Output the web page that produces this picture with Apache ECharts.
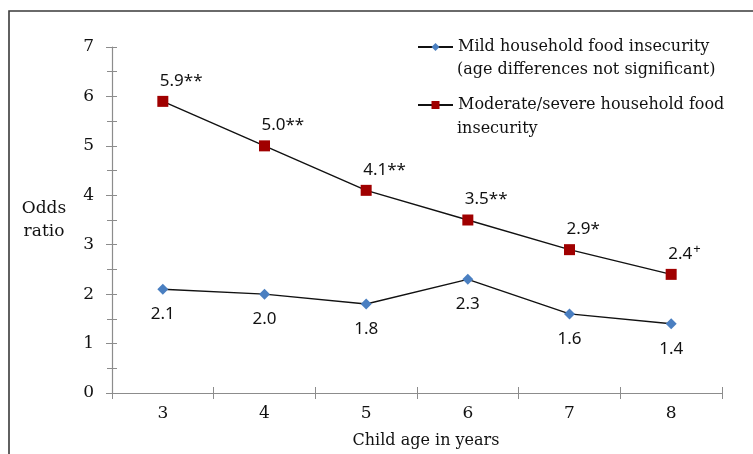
<!DOCTYPE html>
<html>
<head>
<meta charset="utf-8">
<script src="https://cdn.jsdelivr.net/npm/echarts@6/dist/echarts.min.js"></script>
<style>
  html, body { margin: 0; padding: 0; background: #fff; }
  #chart { width: 753px; height: 454px; }
</style>
</head>
<body>
<div id="chart"></div>
<script>
// Child age categories (years)
const ages = ['3', '4', '5', '6', '7', '8'];

// Odds ratios by household food insecurity level
const mildName = 'Mild household food insecurity';
const mildNote = '(age differences not significant)';
const mildValues = [2.1, 2.0, 1.8, 2.3, 1.6, 1.4];

const severeName = 'Moderate/severe household food';
const severeNote = 'insecurity';
const severeValues = [5.9, 5.0, 4.1, 3.5, 2.9, 2.4];
const severeMarks = ['**', '**', '**', '**', '*', '+'];

// Y axis range
const yMin = 0;
const yMax = 7;
const yStep = 1;

const serif = '"DejaVu Serif", serif';
const sans = '"Noto Sans", sans-serif';
const axisGray = '#8c8c8c';
const ink = '#111';

const chart = echarts.init(document.getElementById('chart'), null, { renderer: 'canvas' });

const yBase = {
  type: 'value', min: yMin, max: yMax, interval: yStep,
  position: 'left',
  splitLine: { show: false },
  minorTick: { show: true, splitNumber: 2, length: 5, lineStyle: { color: axisGray, width: 1 } },
  minorSplitLine: { show: false }
};

const legendText = { fontFamily: serif, fontSize: 16, fill: ink };

// significance markers: asterisks sit inline, the plus sign is raised
function markText(mark) {
  return mark === '+' ? '{sup|+}' : '{v|' + mark + '}';
}

const option = {
  backgroundColor: '#fff',
  animation: false,
  graphic: [
    {
      type: 'rect',
      shape: { x: 9, y: 11, width: 800, height: 500 },
      style: { fill: 'none', stroke: '#3a3a3a', lineWidth: 1.6 },
      silent: true
    },
    // continuation lines of the legend entries
    {
      type: 'text', left: 457, top: 62,
      style: Object.assign({ text: mildNote }, legendText), silent: true
    },
    {
      type: 'text', left: 457, top: 121,
      style: Object.assign({ text: severeNote }, legendText), silent: true
    }
  ],
  legend: {
    orient: 'vertical',
    left: 417,
    top: 35,
    padding: 0,
    itemWidth: 35,
    itemHeight: 10,
    itemGap: 34,
    data: [mildName, severeName],
    textStyle: { fontFamily: serif, fontSize: 16, color: ink, lineHeight: 24 }
  },
  grid: { left: 112, right: 31, top: 47, bottom: 60, containLabel: false },
  xAxis: [
    {
      type: 'category', data: ages, position: 'bottom',
      name: 'Child age in years', nameLocation: 'middle', nameGap: 40,
      nameTextStyle: { fontFamily: serif, fontSize: 16, color: ink, padding: [0, 0, 0, 18] },
      axisLine: { lineStyle: { color: axisGray, width: 1.2 } },
      axisTick: { show: true, length: 6, lineStyle: { color: axisGray } },
      axisLabel: { fontFamily: serif, fontSize: 17, color: ink, margin: 12 }
    },
    {
      type: 'category', data: ages, position: 'bottom', offset: 0,
      axisLine: { show: false },
      axisTick: { show: true, inside: true, length: 6, lineStyle: { color: axisGray } },
      axisLabel: { show: false }
    }
  ],
  yAxis: [
    Object.assign({}, yBase, {
      name: 'Odds\nratio', nameLocation: 'middle', nameRotate: 0, nameGap: 68,
      nameTextStyle: { fontFamily: serif, fontSize: 17, color: ink, lineHeight: 23, align: 'center' },
      axisLine: { show: true, lineStyle: { color: axisGray, width: 1.2 } },
      axisTick: { show: true, length: 6, lineStyle: { color: axisGray } },
      axisLabel: { fontFamily: serif, fontSize: 17, color: ink, margin: 18 }
    }),
    Object.assign({}, yBase, {
      offset: 0,
      axisLine: { show: false },
      axisTick: { show: true, inside: true, length: 5, lineStyle: { color: axisGray } },
      axisLabel: { show: false }
    })
  ],
  series: [
    {
      name: mildName,
      type: 'line',
      data: mildValues,
      symbol: 'diamond',
      symbolSize: 11,
      lineStyle: { color: ink, width: 1.4 },
      itemStyle: { color: '#4a7fc1' },
      label: {
        show: true, position: 'bottom', distance: 11,
        fontFamily: sans, fontSize: 17, color: ink,
        formatter: p => p.value.toFixed(1)
      }
    },
    {
      name: severeName,
      type: 'line',
      data: severeValues,
      symbol: 'rect',
      symbolSize: 11,
      lineStyle: { color: ink, width: 1.4 },
      itemStyle: { color: '#a00000' },
      label: {
        show: true, position: 'top', distance: 4, align: 'left', offset: [-3, 0],
        fontFamily: sans, fontSize: 17, color: ink,
        formatter: p => '{v|' + p.value.toFixed(1) + '}' + markText(severeMarks[p.dataIndex]),
        rich: {
          v: { fontFamily: sans, fontSize: 17, color: ink, lineHeight: 22 },
          sup: { fontFamily: sans, fontSize: 13, color: ink, lineHeight: 13, verticalAlign: 'top', padding: [0, 0, 0, 1] }
        }
      }
    }
  ]
};

chart.setOption(option);
</script>
</body>
</html>
